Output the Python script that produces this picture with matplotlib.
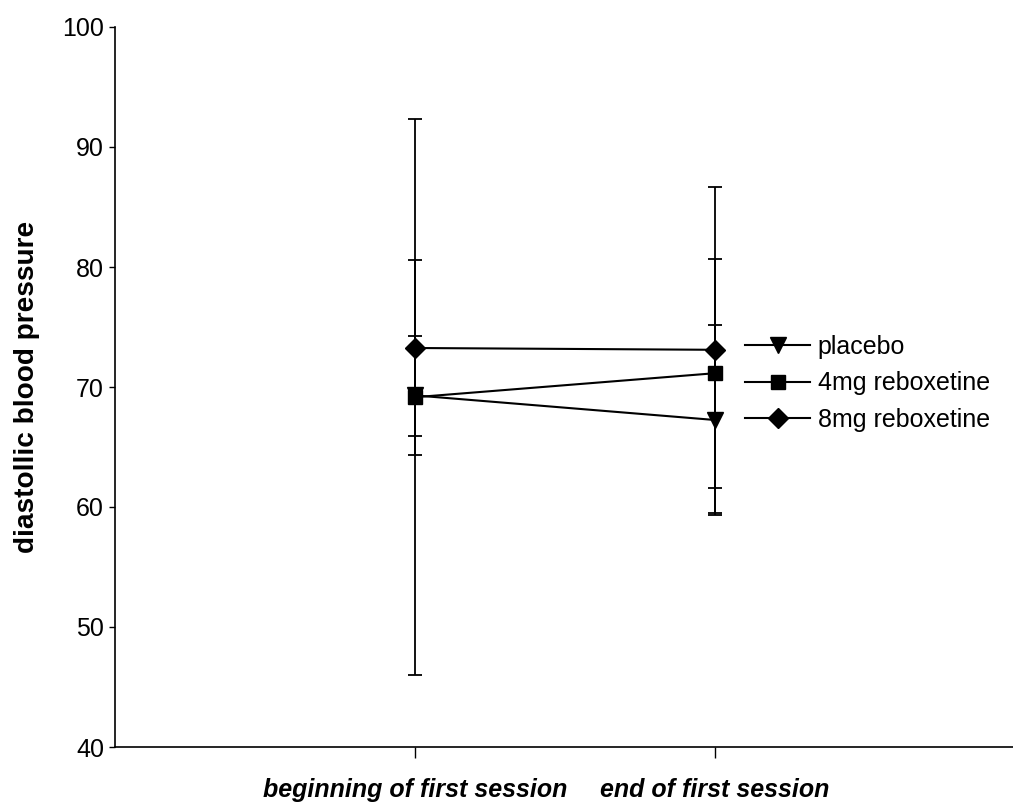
import matplotlib
matplotlib.use("Agg")
import matplotlib.pyplot as plt
from matplotlib.lines import Line2D

plt.rcParams['font.family'] = ['Liberation Sans', 'DejaVu Sans']

# Session time points
sessions = ["beginning of first session", "end of first session"]
positions = [1, 2]

# Mean diastolic blood pressure and standard deviation per group
placebo_mean = [69.3, 67.25]
placebo_sd = [4.95, 7.95]
reb4_mean = [69.15, 71.15]
reb4_sd = [23.15, 9.55]
reb8_mean = [73.25, 73.1]
reb8_sd = [7.35, 13.6]

yticks = [40, 50, 60, 70, 80, 90, 100]

fig = plt.figure(figsize=(10.13, 8.05), dpi=100)
ax = fig.add_axes([115 / 1013, 1 - 747 / 805, 1 - 115 / 1013, (747 - 27) / 805])

groups = [
    ("placebo", placebo_mean, placebo_sd, "v", 11),
    ("4mg reboxetine", reb4_mean, reb4_sd, "s", 10.5),
    ("8mg reboxetine", reb8_mean, reb8_sd, "D", 10),
]
handles = []
for label, mean, sd, marker, ms in groups:
    ax.errorbar(positions, mean, yerr=sd, color="black", ecolor="black",
                elinewidth=1.3, capsize=5, capthick=1.3, linewidth=1.5,
                marker=marker, markersize=ms)
    handles.append(Line2D([], [], color="black", linewidth=1.5,
                          marker=marker, markersize=ms, label=label))

ax.set_xlim(0, 2.993)
ax.set_ylim(40, 100)
ax.set_xticks(positions)
ax.set_xticklabels(sessions, fontsize=18, fontweight="bold", fontstyle="italic")
ax.set_yticks(yticks)
ax.tick_params(axis="y", labelsize=18, length=4, width=1, direction="out", pad=4)
ax.tick_params(axis="x", length=8, width=1, direction="out", pad=14)
ax.set_ylabel("diastollic blood pressure", fontsize=20.2, fontweight="bold", labelpad=16)

for side in ("top", "right"):
    ax.spines[side].set_visible(False)
for side in ("left", "bottom"):
    ax.spines[side].set_linewidth(1.2)

ax.legend(handles=handles, loc="center left", bbox_to_anchor=(0.688, 0.505),
          frameon=False, fontsize=18, handlelength=2.6, handletextpad=0.3,
          labelspacing=0.5, borderpad=0)

fig.savefig("out.png", dpi=100)
